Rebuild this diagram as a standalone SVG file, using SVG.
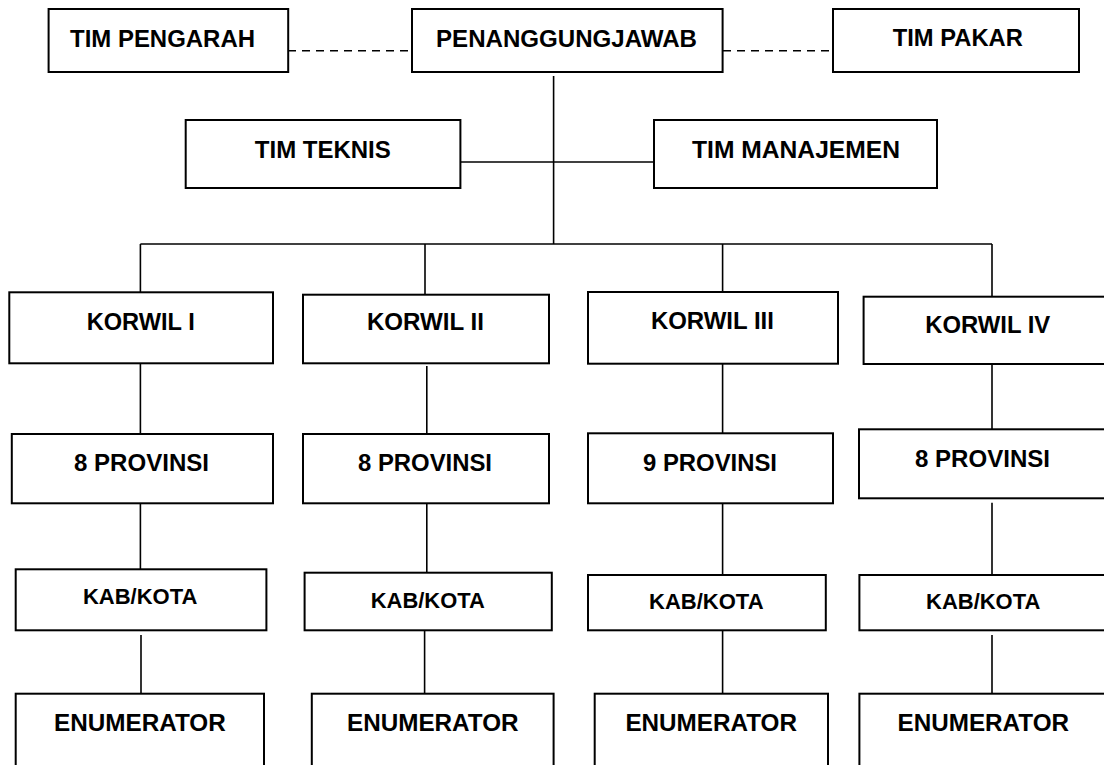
<svg xmlns="http://www.w3.org/2000/svg" width="1104" height="765" viewBox="0 0 1104 765">
<style>
.b{fill:#fff;stroke:#000;stroke-width:2}
.t{font-family:"Liberation Sans",Arial,sans-serif;font-weight:bold;font-size:24px;fill:#000;text-anchor:middle}
.k{font-size:22px}
.e{font-size:23px}
.c{stroke:#000;stroke-width:1.6;fill:none}
.d{stroke:#000;stroke-width:1.4;fill:none;stroke-dasharray:8 6}
</style>
<rect width="1104" height="765" fill="#fff"/>
<g id="connectors">
<line class="d" x1="288" y1="50.7" x2="412" y2="50.7"/>
<line class="d" x1="723" y1="50.7" x2="833" y2="50.7"/>
<line class="c" x1="553.6" y1="76" x2="553.6" y2="244"/>
<line class="c" x1="460" y1="162" x2="654" y2="162"/>
<line class="c" x1="140.4" y1="244" x2="992" y2="244"/>
<line class="c" x1="140.4" y1="244" x2="140.4" y2="292"/>
<line class="c" x1="425" y1="244" x2="425" y2="294.7"/>
<line class="c" x1="722.6" y1="244" x2="722.6" y2="292"/>
<line class="c" x1="992" y1="244" x2="992" y2="296.7"/>
<line class="c" x1="140.4" y1="363" x2="140.4" y2="434"/>
<line class="c" x1="426.8" y1="366" x2="426.8" y2="434"/>
<line class="c" x1="722.6" y1="362" x2="722.6" y2="433"/>
<line class="c" x1="992" y1="364" x2="992" y2="429"/>
<line class="c" x1="140.4" y1="503" x2="140.4" y2="569"/>
<line class="c" x1="426.8" y1="503" x2="426.8" y2="572.7"/>
<line class="c" x1="722.6" y1="503" x2="722.6" y2="575"/>
<line class="c" x1="992" y1="502.7" x2="992" y2="575"/>
<line class="c" x1="141" y1="635" x2="141" y2="693.7"/>
<line class="c" x1="424.6" y1="630" x2="424.6" y2="693.7"/>
<line class="c" x1="722.6" y1="630" x2="722.6" y2="693.7"/>
<line class="c" x1="992" y1="635" x2="992" y2="693.7"/>
</g>
<g id="tim-pengarah"><rect class="b" x="48.6" y="9" width="239.6" height="63"/><text class="t" x="162.5" y="46.7" textLength="185" lengthAdjust="spacingAndGlyphs">TIM PENGARAH</text></g>
<g id="penanggungjawab"><rect class="b" x="412" y="9" width="310.6" height="63"/><text class="t" x="566.5" y="46.7" textLength="261" lengthAdjust="spacingAndGlyphs">PENANGGUNGJAWAB</text></g>
<g id="tim-pakar"><rect class="b" x="833" y="9" width="246" height="63"/><text class="t" x="957.8" y="45.5" textLength="130" lengthAdjust="spacingAndGlyphs">TIM PAKAR</text></g>
<g id="tim-teknis"><rect class="b" x="185.7" y="120" width="274.7" height="68"/><text class="t" x="322.8" y="158" textLength="136" lengthAdjust="spacingAndGlyphs">TIM TEKNIS</text></g>
<g id="tim-manajemen"><rect class="b" x="654" y="120" width="283" height="68"/><text class="t" x="796" y="158" textLength="208" lengthAdjust="spacingAndGlyphs">TIM MANAJEMEN</text></g>
<g id="korwil-1"><rect class="b" x="9.3" y="292.3" width="263.7" height="71"/><text class="t" x="140.7" y="330" textLength="108" lengthAdjust="spacingAndGlyphs">KORWIL I</text></g>
<g id="korwil-2"><rect class="b" x="303" y="294.7" width="246" height="68.6"/><text class="t" x="425.4" y="330" textLength="117" lengthAdjust="spacingAndGlyphs">KORWIL II</text></g>
<g id="korwil-3"><rect class="b" x="588" y="292" width="250" height="71.7"/><text class="t" x="712.4" y="329" textLength="123" lengthAdjust="spacingAndGlyphs">KORWIL III</text></g>
<g id="korwil-4"><rect class="b" x="863.6" y="296.7" width="260" height="67.3"/><text class="t" x="987.7" y="333" textLength="125" lengthAdjust="spacingAndGlyphs">KORWIL IV</text></g>
<g id="provinsi-1"><rect class="b" x="11.8" y="434" width="261.2" height="69.3"/><text class="t" x="141.5" y="470.7" textLength="135" lengthAdjust="spacingAndGlyphs">8 PROVINSI</text></g>
<g id="provinsi-2"><rect class="b" x="303" y="434" width="246" height="69.3"/><text class="t" x="425" y="470.7" textLength="134" lengthAdjust="spacingAndGlyphs">8 PROVINSI</text></g>
<g id="provinsi-3"><rect class="b" x="588" y="433.3" width="245" height="70"/><text class="t" x="710" y="470.7" textLength="134" lengthAdjust="spacingAndGlyphs">9 PROVINSI</text></g>
<g id="provinsi-4"><rect class="b" x="859" y="429.3" width="260" height="69"/><text class="t" x="982.5" y="467" textLength="135" lengthAdjust="spacingAndGlyphs">8 PROVINSI</text></g>
<g id="kab-1"><rect class="b" x="15.7" y="569.3" width="250.7" height="61"/><text class="t k" x="140.2" y="604" textLength="114.5" lengthAdjust="spacingAndGlyphs">KAB/KOTA</text></g>
<g id="kab-2"><rect class="b" x="304.6" y="572.7" width="247.2" height="57.6"/><text class="t k" x="427.8" y="607.7" textLength="114" lengthAdjust="spacingAndGlyphs">KAB/KOTA</text></g>
<g id="kab-3"><rect class="b" x="588" y="575" width="237.8" height="55.3"/><text class="t k" x="706.3" y="609" textLength="114.6" lengthAdjust="spacingAndGlyphs">KAB/KOTA</text></g>
<g id="kab-4"><rect class="b" x="859.4" y="575" width="260" height="55.3"/><text class="t k" x="983.2" y="609" textLength="114.4" lengthAdjust="spacingAndGlyphs">KAB/KOTA</text></g>
<g id="enum-1"><rect class="b" x="15.7" y="693.7" width="248.3" height="90"/><text class="t e" x="139.9" y="730.7" textLength="171.7" lengthAdjust="spacingAndGlyphs">ENUMERATOR</text></g>
<g id="enum-2"><rect class="b" x="311.8" y="693.7" width="241.8" height="90"/><text class="t e" x="432.8" y="730.7" textLength="171.6" lengthAdjust="spacingAndGlyphs">ENUMERATOR</text></g>
<g id="enum-3"><rect class="b" x="594.7" y="693.7" width="233.3" height="90"/><text class="t e" x="711.2" y="730.7" textLength="171.6" lengthAdjust="spacingAndGlyphs">ENUMERATOR</text></g>
<g id="enum-4"><rect class="b" x="859.4" y="693.7" width="260" height="90"/><text class="t e" x="983.3" y="730.7" textLength="171.4" lengthAdjust="spacingAndGlyphs">ENUMERATOR</text></g>
</svg>
